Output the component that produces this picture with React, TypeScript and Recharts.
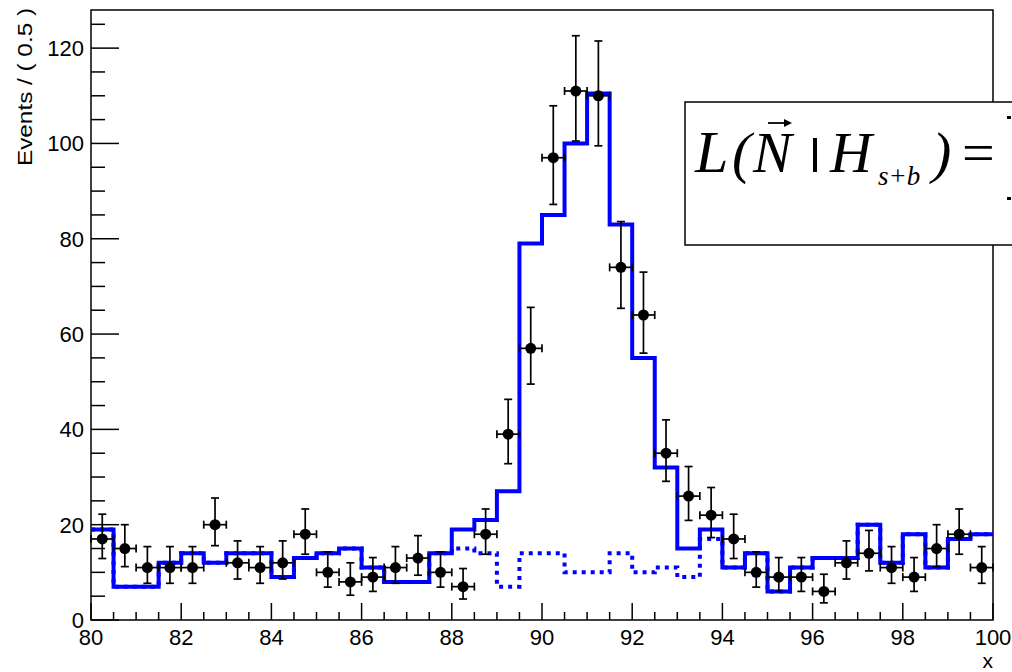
import React from 'react';
import { ComposedChart, Line, Scatter, XAxis, YAxis, ErrorBar, ReferenceArea } from 'recharts';

// ---- data ----
const binCenters = [
  80.25, 80.75, 81.25, 81.75, 82.25, 82.75, 83.25, 83.75, 84.25, 84.75,
  85.25, 85.75, 86.25, 86.75, 87.25, 87.75, 88.25, 88.75, 89.25, 89.75,
  90.25, 90.75, 91.25, 91.75, 92.25, 92.75, 93.25, 93.75, 94.25, 94.75,
  95.25, 95.75, 96.25, 96.75, 97.25, 97.75, 98.25, 98.75, 99.25, 99.75,
];
const binHalfWidth = 0.25;

const counts = [
  17, 15, 11, 11, 11, 20, 12, 11, 12, 18,
  10, 8, 9, 11, 13, 10, 7, 18, 39, 57,
  97, 111, 110, 74, 64, 35, 26, 22, 17, 10,
  9, 9, 6, 12, 14, 11, 9, 15, 18, 11,
];
const errLow = [
  4.1, 3.8, 3.3, 3.3, 3.3, 4.4, 3.4, 3.3, 3.4, 4.2,
  3.1, 2.8, 3.0, 3.3, 3.6, 3.1, 2.6, 4.2, 6.2, 7.5,
  9.8, 10.5, 10.5, 8.6, 8.0, 5.9, 5.1, 4.7, 4.1, 3.1,
  3.0, 3.0, 2.4, 3.4, 3.7, 3.3, 3.0, 3.8, 4.2, 3.3,
];
const errHigh = [
  5.2, 5.0, 4.4, 4.4, 4.4, 5.6, 4.6, 4.4, 4.6, 5.3,
  4.3, 4.0, 4.1, 4.4, 4.7, 4.3, 3.8, 5.3, 7.3, 8.6,
  10.9, 11.6, 11.5, 9.6, 9.0, 7.0, 6.2, 5.8, 5.2, 4.3,
  4.1, 4.1, 3.6, 4.6, 4.8, 4.4, 4.1, 5.0, 5.3, 4.4,
];
// signal + background model (solid)
const sbModel = [
  19, 7, 7, 12, 14, 12, 14, 14, 9, 13,
  14, 15, 11, 8, 8, 14, 19, 21, 27, 79,
  85, 100, 110.5, 83, 55, 32, 15, 19, 11, 14,
  6, 11, 13, 13, 20, 12, 18, 11, 17, 18,
];
// background-only model (dotted)
const bModel = [
  19, 7, 7, 12, 14, 12, 14, 14, 9, 13,
  14, 15, 11, 8, 8, 14, 15, 14, 7, 14,
  14, 10, 10, 14, 10, 11, 9, 17, 11, 14,
  6, 11, 13, 13, 20, 12, 18, 11, 17, 18,
];

const xTicks = [
  80, 80.5, 81, 81.5, 82, 82.5, 83, 83.5, 84, 84.5, 85, 85.5, 86, 86.5, 87, 87.5,
  88, 88.5, 89, 89.5, 90, 90.5, 91, 91.5, 92, 92.5, 93, 93.5, 94, 94.5, 95, 95.5,
  96, 96.5, 97, 97.5, 98, 98.5, 99, 99.5, 100,
];
const xMajorLabels = [80, 82, 84, 86, 88, 90, 92, 94, 96, 98, 100];
const yTicks = [0, 5, 10, 15, 20, 25, 30, 35, 40, 45, 50, 55, 60, 65, 70, 75, 80, 85, 90, 95, 100, 105, 110, 115, 120, 125];
const yMajorLabels = [0, 20, 40, 60, 80, 100, 120];

const X_MIN = 80;
const X_MAX = 100;
const Y_MAX = 128;

// ---- tables built from arrays ----
const points = binCenters.map((c, i) => ({
  x: c,
  y: counts[i],
  ey: [errLow[i], errHigh[i]],
  ex: binHalfWidth,
}));
const toSteps = (vals: number[]) => {
  const rows = binCenters.map((c, i) => ({ x: c - binHalfWidth, y: vals[i] }));
  rows.push({ x: binCenters[binCenters.length - 1] + binHalfWidth, y: vals[vals.length - 1] });
  return rows;
};
const sbSteps = toSteps(sbModel);
const bSteps = toSteps(bModel);

const SANS = "'Liberation Sans', Arial, Helvetica, sans-serif";
const SERIF = "'Liberation Serif', 'Times New Roman', serif";

const Y_TICK_MARGIN = 7;

const YTick = (props: any) => {
  const { x, y, payload } = props;
  const v = payload.value;
  const major = yMajorLabels.includes(v);
  const axisX = x + Y_TICK_MARGIN;
  return (
    <g>
      <line x1={axisX} x2={axisX + (major ? 28 : 14)} y1={y} y2={y} stroke="#000" strokeWidth={1.5} />
      {major && (
        <text x={x} y={y + 8} textAnchor="end" fontSize={22} fontFamily={SANS} fill="#000">
          {v}
        </text>
      )}
    </g>
  );
};

const XTick = (props: any) => {
  const { x, y, payload } = props;
  const v = payload.value;
  const major = xMajorLabels.includes(v);
  return (
    <g>
      <line x1={x} x2={x} y1={y} y2={y - (major ? 17 : 8)} stroke="#000" strokeWidth={1.5} />
      {major && (
        <text x={x} y={y + 25} textAnchor="middle" fontSize={22} fontFamily={SANS} fill="#000">
          {v}
        </text>
      )}
    </g>
  );
};

const Marker = (p: any) => <circle cx={p.cx} cy={p.cy} r={5.5} fill="#000" />;

export default function App() {
  return (
    <div style={{ position: 'absolute', left: 0, top: 0, width: 1012, height: 672, background: '#fff', overflow: 'hidden' }}>
      <ComposedChart width={1012} height={672} margin={{ top: 10, right: 19, left: 0, bottom: 0 }}>
        <XAxis
          type="number"
          dataKey="x"
          domain={[X_MIN, X_MAX]}
          ticks={xTicks}
          interval={0}
          axisLine={false}
          tickLine={false}
          tickSize={0}
          tickMargin={0}
          height={52}
          tick={<XTick />}
          allowDataOverflow
        />
        <YAxis
          type="number"
          domain={[0, Y_MAX]}
          ticks={yTicks}
          interval={0}
          axisLine={false}
          tickLine={false}
          tickSize={0}
          tickMargin={Y_TICK_MARGIN}
          width={91}
          tick={<YTick />}
          allowDataOverflow
        />
        <ReferenceArea x1={X_MIN} x2={X_MAX} y1={0} y2={Y_MAX} fill="none" fillOpacity={0} stroke="#000" strokeWidth={1.5} />
        <Line
          data={bSteps}
          dataKey="y"
          type="stepAfter"
          stroke="#0000ff"
          strokeWidth={4}
          strokeDasharray="4 5"
          dot={false}
          activeDot={false}
          isAnimationActive={false}
        />
        <Line
          data={sbSteps}
          dataKey="y"
          type="stepAfter"
          stroke="#0000ff"
          strokeWidth={4}
          dot={false}
          activeDot={false}
          isAnimationActive={false}
        />
        <Scatter data={points} dataKey="y" shape={<Marker />} isAnimationActive={false}>
          <ErrorBar dataKey="ey" direction="y" width={4} stroke="#000" strokeWidth={1.7} isAnimationActive={false} />
          <ErrorBar dataKey="ex" direction="x" width={4} stroke="#000" strokeWidth={1.7} isAnimationActive={false} />
        </Scatter>
      </ComposedChart>
      <svg width={1012} height={672} style={{ position: 'absolute', left: 0, top: 0, pointerEvents: 'none' }}>
        <text
          transform="translate(32,8) rotate(-90)"
          textAnchor="end"
          fontSize={21}
          fontFamily={SANS}
          fill="#000"
          textLength={158}
          lengthAdjust="spacingAndGlyphs"
        >
          Events / ( 0.5 )
        </text>
        <text x={993} y={668} textAnchor="end" fontSize={21} fontFamily={SANS} fill="#000">
          x
        </text>
        <rect x={685} y={102} width={340} height={143} fill="#fff" stroke="#000" strokeWidth={1.5} />
        <g fontFamily={SERIF} fontStyle="italic" fill="#000">
          <text x={695} y={172} fontSize={60}>L</text>
          <text x={732} y={172} fontSize={58}>(</text>
          <text x={753} y={172} fontSize={58}>N</text>
          <text x={830} y={172} fontSize={58}>H</text>
          <text x={878} y={185} fontSize={27}>s+b</text>
          <text x={932} y={172} fontSize={58}>)</text>
          <text x={962} y={172} fontSize={58} fontStyle="normal">=</text>
        </g>
        <line x1={768} y1={123} x2={787} y2={123} stroke="#000" strokeWidth={1.8} />
        <path d="M 784 119 L 792 123 L 784 127 Z" fill="#000" />
        <rect x={813} y={138} width={4} height={34} fill="#000" />
        <rect x={1007} y={116} width={4} height={3} fill="#000" />
        <rect x={1007} y={197} width={4} height={3} fill="#000" />
      </svg>
    </div>
  );
}
